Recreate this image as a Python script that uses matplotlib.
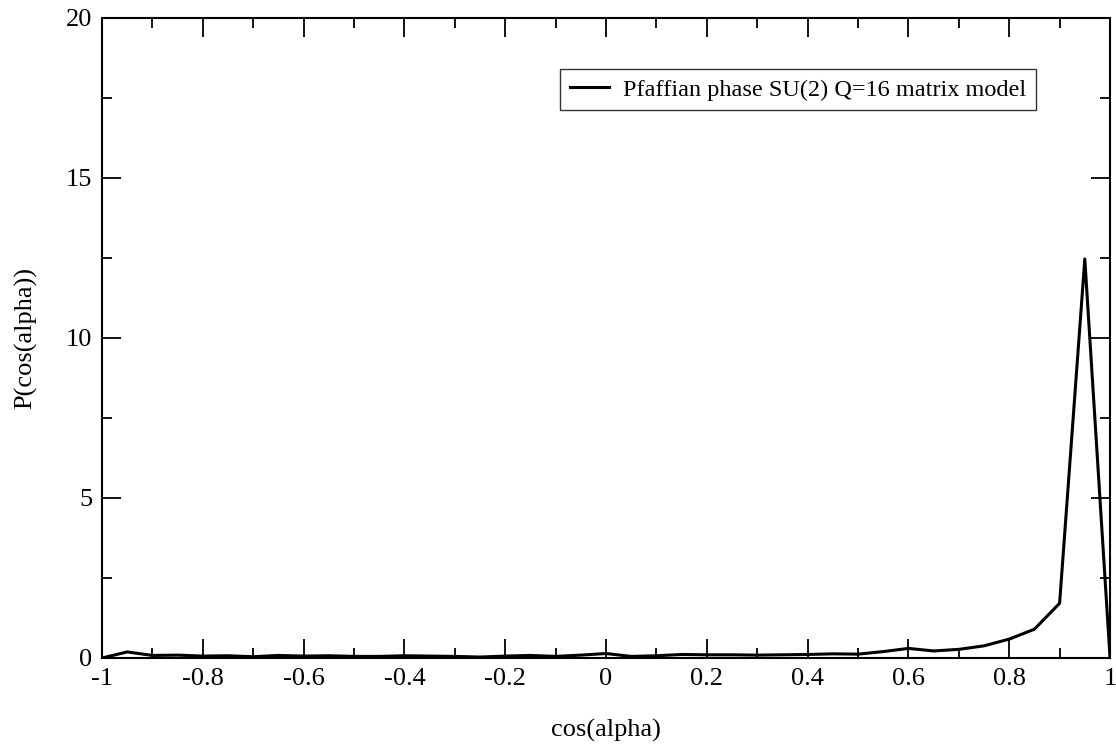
import matplotlib
matplotlib.use("Agg")
import matplotlib.pyplot as plt
from matplotlib.ticker import MultipleLocator
import numpy as np

x_vals = [-1.0, -0.95, -0.9, -0.85, -0.8, -0.75, -0.7, -0.65, -0.6, -0.55, -0.5,
          -0.45, -0.4, -0.35, -0.3, -0.25, -0.2, -0.15, -0.1, -0.05, 0.0,
          0.05, 0.1, 0.15, 0.2, 0.25, 0.3, 0.35, 0.4, 0.45, 0.5,
          0.55, 0.6, 0.65, 0.7, 0.75, 0.8, 0.85, 0.9, 0.95, 1.0]
p_vals = [0.0, 0.19, 0.08, 0.09, 0.06, 0.07, 0.04, 0.08, 0.06, 0.07, 0.05,
          0.05, 0.07, 0.06, 0.05, 0.03, 0.06, 0.08, 0.05, 0.09, 0.14,
          0.05, 0.07, 0.11, 0.10, 0.10, 0.09, 0.10, 0.11, 0.13, 0.12,
          0.20, 0.30, 0.22, 0.27, 0.38, 0.59, 0.90, 1.71, 12.47, 0.02]
series_label = "Pfaffian phase SU(2) Q=16 matrix model"

plt.rcParams['font.family'] = ['Liberation Serif', 'DejaVu Serif']

fig = plt.figure(figsize=(11.16, 7.47), dpi=100)
ax = fig.add_axes([102/1116, 1 - 658/747, (1110-102)/1116, (658-18)/747])
ax.plot(x_vals, p_vals, color='black', lw=2.2, label=series_label)
ax.set_xlim(-1, 1)
ax.set_ylim(0, 20)
ax.xaxis.set_major_locator(MultipleLocator(0.2))
ax.xaxis.set_minor_locator(MultipleLocator(0.1))
ax.yaxis.set_major_locator(MultipleLocator(5))
ax.yaxis.set_minor_locator(MultipleLocator(2.5))
ax.tick_params(which='both', direction='in', top=True, right=True, labelsize=19, width=1.3)
ax.tick_params(which='major', length=14, pad=7)
ax.tick_params(which='minor', length=7)
for s in ax.spines.values():
    s.set_linewidth(1.5)

def fmt(v, pos):
    if abs(v) < 1e-9:
        return "0"
    if abs(v - round(v)) < 1e-9:
        return "%d" % round(v)
    return ("%g" % v)
ax.xaxis.set_major_formatter(plt.FuncFormatter(fmt))

ax.set_xlabel("cos(alpha)", fontsize=19, labelpad=21)
ax.set_ylabel("P(cos(alpha))", fontsize=19, labelpad=21)

leg = ax.legend(loc='upper right', bbox_to_anchor=(1036/1116, 1 - 69/747), bbox_transform=fig.transFigure,
                fontsize=17.5, frameon=True, fancybox=False, handlelength=1.6, handletextpad=0.6,
                borderpad=0.4, borderaxespad=0)
leg.get_frame().set_edgecolor('black')
leg.get_frame().set_linewidth(1.0)

fig.savefig("out.png", dpi=100)
